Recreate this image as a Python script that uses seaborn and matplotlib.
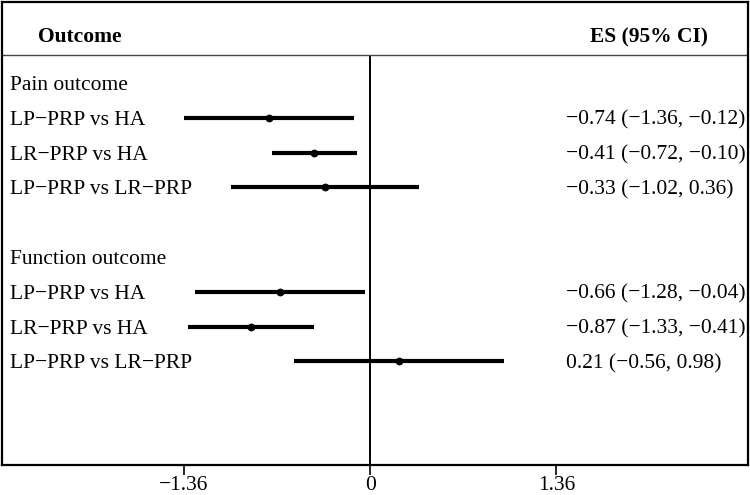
import matplotlib
matplotlib.use("Agg")
import matplotlib.pyplot as plt
import seaborn as sns
import pandas as pd

# ─── Data ─────────────────────────────────────────────────────────────────────
groups = ["Pain outcome", "Function outcome"]
comparisons = ["LP\u2212PRP vs HA", "LR\u2212PRP vs HA", "LP\u2212PRP vs LR\u2212PRP"]
es = [-0.74, -0.41, -0.33, -0.66, -0.87, 0.21]
ci_low = [-1.36, -0.72, -1.02, -1.28, -1.33, -0.56]
ci_high = [-0.12, -0.10, 0.36, -0.04, -0.41, 0.98]
tick_values = [-1.36, 0, 1.36]

sns.set_theme(style="white")
plt.rcParams["font.family"] = ["Liberation Serif", "DejaVu Serif"]
plt.rcParams["axes.unicode_minus"] = True
plt.rcParams["text.color"] = "black"
plt.rcParams["xtick.color"] = "black"
plt.rcParams["xtick.labelcolor"] = "black"


def fmt(v):
    return f"{v:.2f}".replace("-", "\u2212")


# rows: group header then its three comparisons, blank line between groups
rows = []
labels = []
r = 0
for g_i, g in enumerate(groups):
    labels.append((r, g))
    r += 1
    for c_i, c in enumerate(comparisons):
        k = g_i * len(comparisons) + c_i
        rows.append(dict(row=r, label=c, es=es[k], lo=ci_low[k], hi=ci_high[k]))
        r += 1
    r += 1
df = pd.DataFrame(rows)

fig = plt.figure(figsize=(7.5, 4.95), dpi=100)
ax = fig.add_axes([2 / 750, 30 / 495, 746 / 750, 463 / 495])

x_left, x_right = -2.69, 2.76
y_top, y_bottom = -2.33, 10.98
header_line = -0.80
header_y = -1.38
base = 0.2  # baseline offset below the row centre

ax.hlines(df["row"], df["lo"], df["hi"], color="black", linewidth=3.0, zorder=2)
sns.scatterplot(data=df, x="es", y="row", ax=ax, color="black", marker="o",
                s=26, edgecolor="black", linewidth=0.5, zorder=3, legend=False)

ax.vlines(0, header_line, y_bottom, color="black", linewidth=1.4, zorder=1)
ax.axhline(header_line, color="#444444", linewidth=1.0)

fs = 15.5
va = "baseline"
ax.text(-2.43, header_y + base, "Outcome", fontsize=fs, fontweight="bold", va=va, ha="left")
ax.text(2.47, header_y + base, "ES (95% CI)", fontsize=fs, fontweight="bold", va=va, ha="right")

for row, g in labels:
    ax.text(-2.63, row + base, g, fontsize=fs, va=va, ha="left")
for _, d in df.iterrows():
    ax.text(-2.63, d["row"] + base, d["label"], fontsize=fs, va=va, ha="left")
    ax.text(1.43, d["row"] + base, f"{fmt(d['es'])} ({fmt(d['lo'])}, {fmt(d['hi'])})",
            fontsize=fs, va=va, ha="left")

ax.set_xlim(x_left, x_right)
ax.set_ylim(y_bottom, y_top)
ax.set_yticks([])
ax.set_xticks(tick_values)
ax.set_xticklabels([fmt(v) if v != 0 else "0" for v in tick_values], fontsize=fs)
ax.tick_params(axis="x", direction="out", length=7, width=1.2, color="black", pad=1,
               bottom=True)
ax.set_xlabel("")
ax.set_ylabel("")
for s in ax.spines.values():
    s.set_visible(True)
    s.set_color("black")
    s.set_linewidth(1.6)

fig.savefig("out.png", dpi=100)
